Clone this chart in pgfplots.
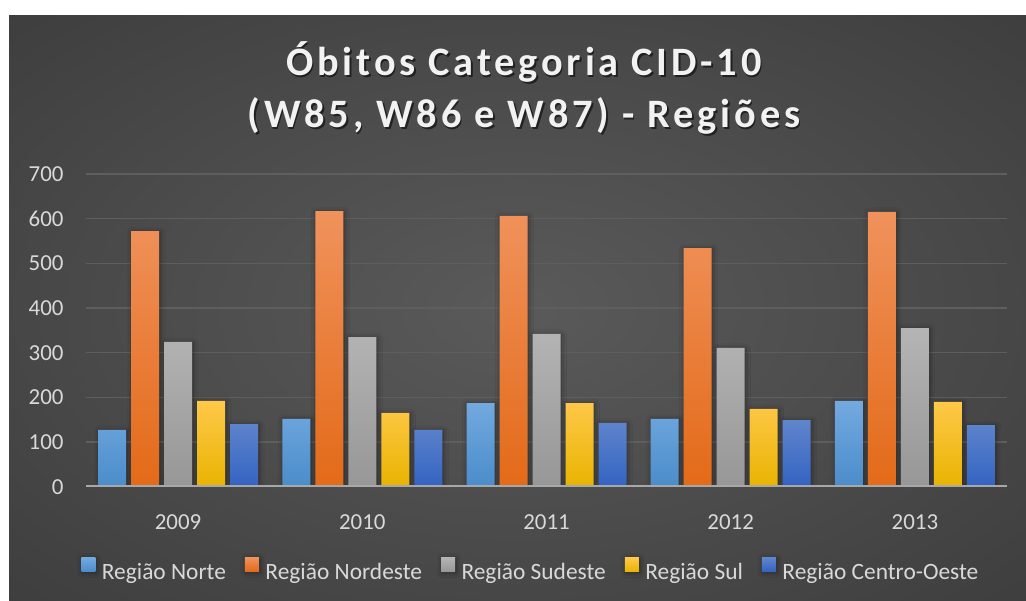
\documentclass[border=0pt]{standalone}
\usepackage{fontspec}
\setmainfont{Carlito}
\newfontfamily\titlefont{Carlito}[LetterSpace=9.5]
\usepackage{pgfplots}
\usepackage{pgfplotstable}
\pgfplotsset{compat=1.18}
\usetikzlibrary{shadows.blur}

\definecolor{bgin}{HTML}{5A5A5A}
\definecolor{bgout}{HTML}{232323}
\pgfdeclareradialshading{bgshade}{\pgfpoint{0bp}{0bp}}{color(0bp)=(bgin); color(70bp)=(bgout)}
\definecolor{gridc}{HTML}{5E5E5E}
\definecolor{axisc}{HTML}{A8A8A8}
\definecolor{tickc}{HTML}{D9D9D9}
\definecolor{titlec}{HTML}{F2F2F2}
% bar colours
\definecolor{nT}{HTML}{73AAE0}\definecolor{nM}{HTML}{5B9BD5}\definecolor{nB}{HTML}{4A8CCA}
\definecolor{neT}{HTML}{F0925C}\definecolor{neM}{HTML}{F47D2A}\definecolor{neB}{HTML}{E36A18}
\definecolor{sdT}{HTML}{B4B4B4}\definecolor{sdM}{HTML}{A5A5A5}\definecolor{sdB}{HTML}{979797}
\definecolor{sT}{HTML}{FFC84A}\definecolor{sM}{HTML}{FFC000}\definecolor{sB}{HTML}{E8B400}
\definecolor{cT}{HTML}{6085CC}\definecolor{cM}{HTML}{4472C4}\definecolor{cB}{HTML}{3363C2}

\pgfplotstableread{
x norte nordeste sudeste sul co
0 127 572 324 192 140
1 152 617 335 165 127
2 187 606 342 187 143
3 152 534 311 174 149
4 192 615 355 190 138
}\data

\begin{document}
\begin{tikzpicture}[x=1bp,y=1bp]
\path[use as bounding box] (0,0) rectangle (1026,601);
\fill[white] (0,0) rectangle (1026,601);
\shade[shading=bgshade] (9,0) rectangle (1026,585);
% title
\node[anchor=base, text=black, opacity=0.55, font=\titlefont\bfseries\fontsize{40.5}{44}\selectfont] at (525.5,523.8) {Óbitos Categoria CID-10};
\node[anchor=base, text=black, opacity=0.55, font=\titlefont\bfseries\fontsize{40.5}{44}\selectfont] at (525.5,471.5) {(W85, W86 e W87) - Regiões};
\node[anchor=base, text=titlec, font=\titlefont\bfseries\fontsize{40.5}{44}\selectfont] at (524,525.3) {Óbitos Categoria CID-10};
\node[anchor=base, text=titlec, font=\titlefont\bfseries\fontsize{40.5}{44}\selectfont] at (524,473) {(W85, W86 e W87) - Regiões};
\begin{axis}[
  at={(86bp,114.3bp)}, anchor=south west,
  scale only axis, width=921bp, height=312.7bp,
  xmin=-0.5, xmax=4.5, ymin=0, ymax=700,
  ybar=5bp, bar width=28bp,
  axis line style={draw=none}, tick style={draw=none},
  ymajorgrids, grid style={color=gridc, line width=1.5bp},
  ytick={0,100,...,700},
  xtick={0,1,2,3,4},
  xticklabels={2009,2010,2011,2012,2013},
  /pgf/number format/assume math mode=true,
  tick label style={font=\fontsize{23}{27}\selectfont, text=tickc},
  yticklabel style={anchor=east, xshift=-19bp},
  xticklabel style={anchor=base, yshift=-38.3bp},
  legend style={draw=none, fill=none, at={(0.483,-0.268)}, anchor=center,
    legend columns=-1, font=\fontsize{23.5}{27}\selectfont, text=tickc,
    /tikz/every even column/.append style={column sep=17bp},
    /tikz/every odd column/.append style={column sep=4.5bp},
    cells={inner xsep=0pt}},
  legend image code/.code={\fill[#1] (0bp,1bp) rectangle (14bp,15bp);},
  every axis plot/.append style={draw=none},
  barsh/.style={blur shadow={shadow xshift=1bp, shadow yshift=-1bp, shadow blur radius=5bp, shadow opacity=45}},
]
\addplot[shading=axis, top color=nT, middle color=nM, bottom color=nB, barsh] table[x=x,y=norte] {\data};
\addplot[shading=axis, top color=neT, middle color=neM, bottom color=neB, barsh] table[x=x,y=nordeste] {\data};
\addplot[shading=axis, top color=sdT, middle color=sdM, bottom color=sdB, barsh] table[x=x,y=sudeste] {\data};
\addplot[shading=axis, top color=sT, middle color=sM, bottom color=sB, barsh] table[x=x,y=sul] {\data};
\addplot[shading=axis, top color=cT, middle color=cM, bottom color=cB, barsh] table[x=x,y=co] {\data};
\legend{Região Norte, Região Nordeste, Região Sudeste, Região Sul, Região Centro-Oeste}
\draw[color=axisc, line width=2.5bp] (rel axis cs:0,0) -- (rel axis cs:1,0);
\end{axis}
\end{tikzpicture}
\end{document}
